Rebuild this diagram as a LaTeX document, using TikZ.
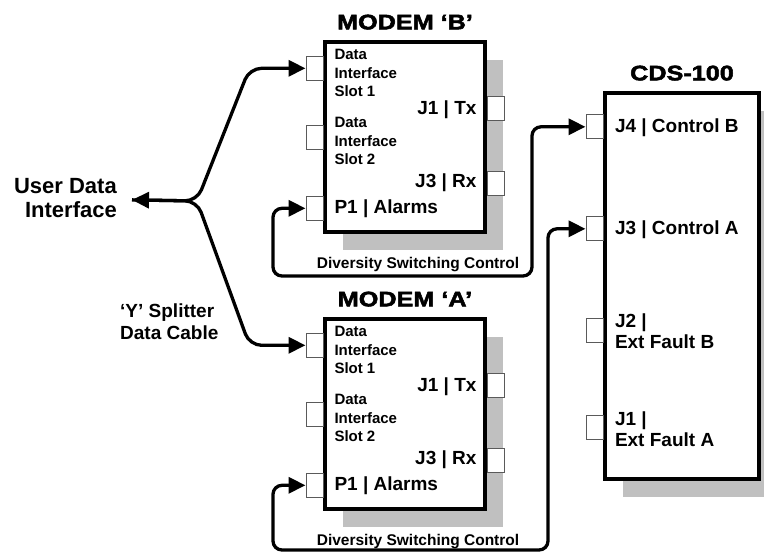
\documentclass[tikz,border=0pt]{standalone}
\usepackage{fontspec}
\setmainfont{Liberation Sans}
\newfontfamily\titlefont[FakeStretch=1.2,FakeBold=2.5]{Liberation Sans}
\usepackage{tikz}
\usetikzlibrary{arrows.meta, shadows}
\definecolor{shadowgray}{RGB}{192, 192, 192}
\definecolor{portedge}{RGB}{90, 90, 90}

\begin{document}
\begin{tikzpicture}[
      x=1pt, y=-1pt,
      unit/.style={draw, line width=3.4pt, fill=white, inner sep=0pt,
                   drop shadow={shadow xshift=18pt, shadow yshift=-18pt,
                                fill=shadowgray, opacity=1}},
      modem/.style={unit, minimum width=160pt, minimum height=190pt},
      port/.style={draw=portedge, fill=white, line width=0.8pt,
                   minimum width=17pt, minimum height=24pt, inner sep=0pt},
      title/.style={font=\titlefont\bfseries\fontsize{21}{24}\selectfont, anchor=base},
      lbl/.style={font=\bfseries\fontsize{19}{21}\selectfont, inner sep=0pt, align=left},
      slot/.style={font=\bfseries\fontsize{15}{18.5}\selectfont, inner sep=0pt,
                   align=left, anchor=north west},
      note/.style={font=\bfseries\fontsize{15.5}{18}\selectfont, inner sep=0pt, anchor=base},
      tip/.tip={Triangle[length=17pt, width=16pt]},
      cable/.style={line width=3.3pt, rounded corners=12pt, -tip},
      twoway/.style={cable, rounded corners=9pt, tip-tip}
    ]
    \useasboundingbox (0,0) rectangle (764,552);

    %% Modem B
    \node[modem] (mB) at (405,137) {};
    \node[title] (tB) at ([yshift=11pt]mB.north) {MODEM ‘B’};
    \node[port, anchor=east] (bS1) at ([yshift=-28pt]mB.north west) {};
    \node[port, anchor=east] (bS2) at ([yshift=-97pt]mB.north west) {};
    \node[port, anchor=east] (bP1) at ([yshift=-168pt]mB.north west) {};
    \node[port, anchor=west] (bJ1) at ([yshift=-68pt]mB.north east) {};
    \node[port, anchor=west] (bJ3) at ([yshift=-143pt]mB.north east) {};
    \node[slot] (bT1) at ([xshift=11pt, yshift=-9pt]mB.north west) {Data\\Interface\\Slot 1};
    \node[slot] (bT2) at ([xshift=11pt, yshift=-77pt]mB.north west) {Data\\Interface\\Slot 2};
    \node[lbl, anchor=base east] (bTx) at ([xshift=-10pt, yshift=-74.5pt]mB.north east) {J1 | Tx};
    \node[lbl, anchor=base east] (bRx) at ([xshift=-10pt, yshift=-147.5pt]mB.north east) {J3 | Rx};
    \node[lbl, anchor=base west] (bAl) at ([xshift=11pt, yshift=-173.5pt]mB.north west) {P1 | Alarms};
    \node[note] (bDiv) at ([xshift=13pt, yshift=-35pt]mB.south) {Diversity Switching Control};

    %% Modem A
    \node[modem] (mA) at (405,414) {};
    \node[title] (tA) at ([yshift=11pt]mA.north) {MODEM ‘A’};
    \node[port, anchor=east] (aS1) at ([yshift=-28pt]mA.north west) {};
    \node[port, anchor=east] (aS2) at ([yshift=-97pt]mA.north west) {};
    \node[port, anchor=east] (aP1) at ([yshift=-168pt]mA.north west) {};
    \node[port, anchor=west] (aJ1) at ([yshift=-68pt]mA.north east) {};
    \node[port, anchor=west] (aJ3) at ([yshift=-143pt]mA.north east) {};
    \node[slot] (aT1) at ([xshift=11pt, yshift=-9pt]mA.north west) {Data\\Interface\\Slot 1};
    \node[slot] (aT2) at ([xshift=11pt, yshift=-77pt]mA.north west) {Data\\Interface\\Slot 2};
    \node[lbl, anchor=base east] (aTx) at ([xshift=-10pt, yshift=-74.5pt]mA.north east) {J1 | Tx};
    \node[lbl, anchor=base east] (aRx) at ([xshift=-10pt, yshift=-147.5pt]mA.north east) {J3 | Rx};
    \node[lbl, anchor=base west] (aAl) at ([xshift=11pt, yshift=-173.5pt]mA.north west) {P1 | Alarms};
    \node[note] (aDiv) at ([xshift=13pt, yshift=-35pt]mA.south) {Diversity Switching Control};

    %% CDS-100
    \node[unit, minimum width=154pt, minimum height=386pt] (cds) at (682,286) {};
    \node[title] (tC) at ([yshift=11pt]cds.north) {CDS-100};
    \node[port, anchor=east] (cJ4) at ([yshift=-35.5pt]cds.north west) {};
    \node[port, anchor=east] (cJ3) at ([yshift=-137.5pt]cds.north west) {};
    \node[port, anchor=east] (cJ2) at ([yshift=-239.5pt]cds.north west) {};
    \node[port, anchor=east] (cJ1) at ([yshift=-336.5pt]cds.north west) {};
    \node[lbl, anchor=base west] (cT4) at ([xshift=11.5pt, yshift=-41.5pt]cds.north west) {J4 | Control B};
    \node[lbl, anchor=base west] (cT3) at ([xshift=11.5pt, yshift=-143.5pt]cds.north west) {J3 | Control A};
    \node[lbl, anchor=north west] (cT2) at ([xshift=11.5pt, yshift=-222pt]cds.north west) {J2 |\\Ext Fault B};
    \node[lbl, anchor=north west] (cT1) at ([xshift=11.5pt, yshift=-320pt]cds.north west) {J1 |\\Ext Fault A};

    %% User data side
    \node[font=\bfseries\fontsize{22}{24}\selectfont, align=right, inner sep=0pt,
          anchor=north east] (udi) at (117,178) {User Data\\Interface};
    \node[lbl, font=\bfseries\fontsize{19}{22}\selectfont, anchor=north west]
          (ycab) at (120,303.5) {‘Y’ Splitter\\Data Cable};
    \coordinate (udiend) at ([xshift=15pt, yshift=-2pt]udi.east);
    \coordinate (split) at (197,201);

    \draw[twoway, rounded corners=12pt] (udiend) -- (split) -- ([xshift=-56pt]bS1.west) -- (bS1.west);
    \draw[cable] (udiend) -- (split) -- ([xshift=-56pt]aS1.west) -- (aS1.west);

    %% Diversity switching control loops
    \coordinate (loopB) at (273,276);
    \coordinate (riseB) at (532,276);
    \coordinate (loopA) at (273,550);
    \coordinate (riseA) at (548,550);
    \draw[twoway] (bP1.west) -| (loopB) -- (riseB) |- (cJ4.west);
    \draw[twoway] (aP1.west) -| (loopA) -- (riseA) |- (cJ3.west);
  \end{tikzpicture}
\end{document}
